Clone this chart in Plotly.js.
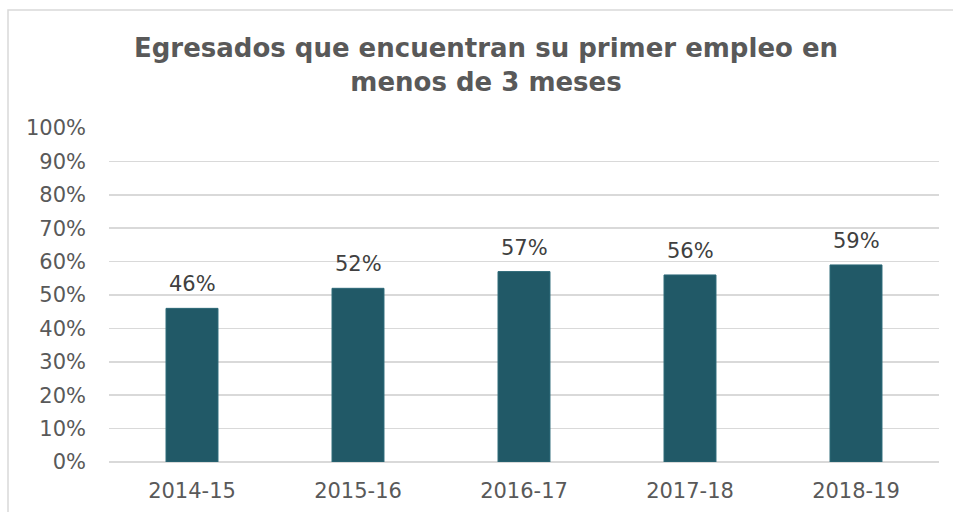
<!DOCTYPE html>
<html>
<head>
<meta charset="utf-8">
<script src="https://cdn.plot.ly/plotly-3.0.1.min.js"></script>
<style>html,body{margin:0;padding:0;background:#fff;}#chart{width:953px;height:512px;}</style>
</head>
<body>
<div id="chart"></div>
<script>
const categories = ["2014-15", "2015-16", "2016-17", "2017-18", "2018-19"];
const values = [0.46, 0.52, 0.57, 0.56, 0.59];
const valueLabels = ["46%", "52%", "57%", "56%", "59%"];
const yTickVals = [0, 0.1, 0.2, 0.3, 0.4, 0.5, 0.6, 0.7, 0.8, 0.9, 1.0];
const yTickText = ["0%", "10%", "20%", "30%", "40%", "50%", "60%", "70%", "80%", "90%", "100%"];
const titleText = "Egresados que encuentran su primer empleo en<br>menos de 3 meses";

const FONT = "Verdana, 'DejaVu Sans', sans-serif";

const trace = {
  type: "bar",
  x: categories,
  y: values,
  marker: {color: "#215967", line: {color: "#2b6877", width: 1}},
  hoverinfo: "skip"
};

const annotations = categories.map((c, i) => ({
  x: c, y: values[i], xref: "x", yref: "y",
  text: valueLabels[i], showarrow: false,
  yanchor: "bottom", yshift: 10,
  font: {family: FONT, size: 21, color: "#404040"}
}));

const layout = {
  width: 953, height: 512,
  margin: {l: 109, r: 14, t: 128, b: 50},
  paper_bgcolor: "#ffffff",
  plot_bgcolor: "#ffffff",
  bargap: 0.687,
  showlegend: false,
  title: {
    text: titleText,
    font: {family: FONT, size: 26, color: "#595959", weight: "bold"},
    xref: "container", yref: "container",
    x: 0.51, xanchor: "center",
    y: 1 - 57/512, yanchor: "top"
  },
  xaxis: {
    type: "category",
    showgrid: false,
    showline: false,
    zeroline: false,
    ticks: "",
    ticklabelstandoff: 14,
    tickfont: {family: FONT, size: 21, color: "#595959"}
  },
  yaxis: {
    range: [0, 1.0],
    tickvals: yTickVals,
    ticktext: yTickText,
    showgrid: true,
    gridcolor: "#d9d9d9",
    gridwidth: 1.5,
    zeroline: true,
    zerolinecolor: "#d9d9d9",
    zerolinewidth: 1.5,
    showline: false,
    ticks: "",
    ticklabelstandoff: 22,
    tickfont: {family: FONT, size: 21, color: "#595959"}
  },
  annotations: annotations,
  shapes: [{
    type: "rect", xref: "paper", yref: "paper",
    x0: (8 - 109) / 830, x1: (970 - 109) / 830,
    y0: -(512 - 462 + 10) / 334, y1: 1 + (128 - 10) / 334,
    line: {color: "#d9d9d9", width: 1.5},
    fillcolor: "rgba(0,0,0,0)",
    layer: "below"
  }]
};

Plotly.newPlot("chart", [trace], layout, {displayModeBar: false, staticPlot: true});
</script>
</body>
</html>
